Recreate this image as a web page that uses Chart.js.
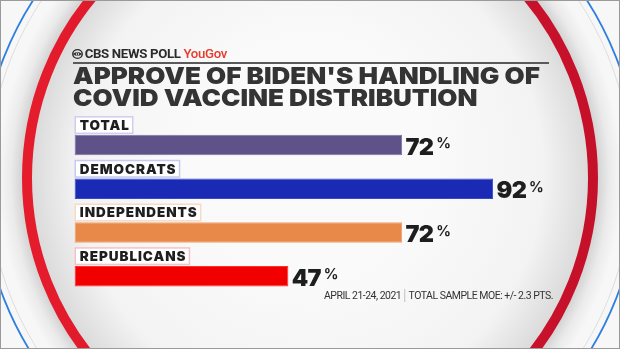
<!DOCTYPE html>
<html><head><meta charset="utf-8">
<script src="https://cdn.jsdelivr.net/npm/chart.js@4.4.1/dist/chart.umd.min.js"></script>
<style>
html,body{margin:0;padding:0;background:#fff;}
#wrap{position:relative;width:620px;height:349px;overflow:hidden;}
#c{position:absolute;left:0;top:0;}
.t{position:absolute;white-space:nowrap;transform-origin:left top;}
#hdr{left:72px;top:47px;font:700 12px Roboto,sans-serif;color:#2b2b2b;letter-spacing:-0.3px;line-height:14px;}
#hdr .yg{color:#e8392b;font-weight:500;}
#rule{position:absolute;left:73px;top:62px;width:476px;height:1.5px;background:#5a5a5a;}
.ttl{font:900 23.5px Inter,sans-serif;color:#343434;line-height:24px;left:73px;}
#t1{top:63.5px;}
#t2{top:85.5px;}
#foot{left:324px;top:288px;font:400 11.5px Roboto,sans-serif;color:#333;letter-spacing:-0.55px;line-height:14px;}
#foot .sep{display:inline-block;width:1px;height:13px;background:#bbb;vertical-align:-3px;margin:0 4px 0 3px;}
</style></head>
<body>
<div id="wrap">
<canvas id="c" width="620" height="349"></canvas>
<div id="hdr" class="t"><svg width="11" height="10" viewBox="0 0 11 10" style="vertical-align:-1px;margin-right:0.5px"><circle cx="5" cy="5" r="4.3" fill="none" stroke="#2b2b2b" stroke-width="1.3"/><path d="M0.9 5 Q5 1.2 9.1 5 Q5 8.8 0.9 5Z" fill="#2b2b2b"/><circle cx="5" cy="5" r="1.6" fill="#fff"/><circle cx="5" cy="5" r="0.9" fill="#2b2b2b"/></svg>CBS NEWS POLL <span class="yg">YouGov</span></div>
<div id="rule"></div>
<div id="t1" class="t ttl">APPROVE OF BIDEN'S HANDLING OF</div>
<div id="t2" class="t ttl">COVID VACCINE DISTRIBUTION</div>
<div id="foot" class="t">APRIL 21-24, 2021<span class="sep"></span>TOTAL SAMPLE MOE: +/- 2.3 PTS.</div>
</div>
<script>
const categories = ['TOTAL', 'DEMOCRATS', 'INDEPENDENTS', 'REPUBLICANS'];
const approve = [72, 92, 72, 47];
const barColors = ['#5f5288', '#1b2ab4', '#e8894a', '#f20000'];
const barEdgeColors = ['#7d72a6', '#3a48c8', '#f0a271', '#ff3030'];
const boxColors = ['#cfcdf0', '#c6c9f2', '#f8dac6', '#f5c3c6'];
const valueSuffix = '%';

const CX = 310, CY = 178;

const bgPlugin = {
  id: 'bg',
  beforeDraw(chart) {
    const ctx = chart.ctx, W = chart.width, H = chart.height;
    ctx.save();
    ctx.fillStyle = '#f7f7f7';
    ctx.fillRect(0, 0, W, H);
    let g = ctx.createRadialGradient(CX, CY, 286, CX, CY, 312);
    g.addColorStop(0, 'rgba(0,0,0,0.16)');
    g.addColorStop(0.5, 'rgba(0,0,0,0.05)');
    g.addColorStop(1, 'rgba(0,0,0,0)');
    ctx.fillStyle = g;
    ctx.fillRect(0, 0, W, H);
    g = ctx.createRadialGradient(CX, CY - 20, 120, CX, CY, 282);
    g.addColorStop(0, '#fafafa');
    g.addColorStop(0.7, '#f3f3f3');
    g.addColorStop(1, '#d9d9d9');
    ctx.beginPath(); ctx.arc(CX, CY, 283, 0, Math.PI * 2);
    ctx.fillStyle = g; ctx.fill();
    const lg = ctx.createLinearGradient(20, 0, 600, 0);
    lg.addColorStop(0, '#e51c2c');
    lg.addColorStop(1, '#c5102a');
    ctx.beginPath(); ctx.arc(CX, CY, 283, 0, Math.PI * 2);
    ctx.lineWidth = 10; ctx.strokeStyle = lg; ctx.stroke();
    ctx.beginPath(); ctx.arc(CX, CY, 322, 0, Math.PI * 2);
    ctx.lineWidth = 1; ctx.strokeStyle = 'rgba(0,0,0,0.10)'; ctx.stroke();
    ctx.beginPath(); ctx.arc(CX, CY, 329, 0, Math.PI * 2);
    ctx.lineWidth = 1.8; ctx.strokeStyle = '#2f7fe0'; ctx.stroke();
    ctx.lineWidth = 1; ctx.strokeStyle = '#9a9a9a';
    ctx.strokeRect(0.5, 0.5, W - 1, H - 1);
    ctx.restore();
  }
};

const labelPlugin = {
  id: 'labels',
  afterDatasetsDraw(chart) {
    const ctx = chart.ctx;
    const meta = chart.getDatasetMeta(0);
    ctx.save();
    meta.data.forEach((bar, i) => {
      const p = bar.getProps(['x', 'y', 'base', 'height'], true);
      const top = p.y - p.height / 2, bottom = p.y + p.height / 2;
      ctx.font = '900 13.5px Inter, sans-serif';
      ctx.letterSpacing = '0.95px';
      const w = ctx.measureText(categories[i]).width;
      const bx = p.base + 0.75, by = top - 18, bw = w + 7.5, bh = 16.5;
      ctx.fillStyle = '#ffffff';
      ctx.fillRect(bx, by, bw, bh);
      ctx.lineWidth = 1.5; ctx.strokeStyle = boxColors[i];
      ctx.strokeRect(bx, by, bw, bh);
      ctx.fillStyle = '#1e1e1e';
      ctx.textBaseline = 'alphabetic';
      ctx.fillText(categories[i], bx + 4.5, by + 13.2);
      ctx.letterSpacing = '-0.8px';
      ctx.font = '900 23.5px Inter, sans-serif';
      const vs = String(approve[i]);
      const vx = p.x + 3.5, vy = bottom - 0.7;
      ctx.fillText(vs, vx, vy);
      const vw = ctx.measureText(vs).width;
      ctx.letterSpacing = '0px';
      ctx.font = '700 14.5px Inter, sans-serif';
      ctx.fillText(valueSuffix, vx + vw + 3, vy - 6.3);
    });
    ctx.restore();
  }
};

new Chart(document.getElementById('c'), {
  type: 'bar',
  data: {
    labels: categories,
    datasets: [{
      data: approve,
      backgroundColor: barColors,
      borderColor: barEdgeColors,
      borderWidth: 1,
      borderSkipped: false,
      barPercentage: 0.468,
      categoryPercentage: 1
    }]
  },
  options: {
    indexAxis: 'y',
    responsive: false,
    animation: false,
    devicePixelRatio: 1,
    layout: { padding: { left: 74.5, right: 90.5, top: 123.2, bottom: 51 } },
    scales: {
      x: { display: false, min: 0, max: 100 },
      y: { display: false }
    },
    plugins: { legend: { display: false }, tooltip: { enabled: false }, title: { display: false } }
  },
  plugins: [bgPlugin, labelPlugin]
});

function fit(el, target) {
  el.style.transform = 'none';
  const w = el.getBoundingClientRect().width;
  return target / w;
}
document.fonts.ready.then(() => {
  const t1 = document.getElementById('t1'), t2 = document.getElementById('t2');
  const s = fit(t1, 467);
  t1.style.transform = t2.style.transform = 'scaleX(' + s + ')';
  const hdr = document.getElementById('hdr');
  hdr.style.transform = 'scaleX(' + fit(hdr, 155) + ')';
  const foot = document.getElementById('foot');
  foot.style.transform = 'scaleX(' + fit(foot, 229) + ')';
});
</script>
</body></html>
